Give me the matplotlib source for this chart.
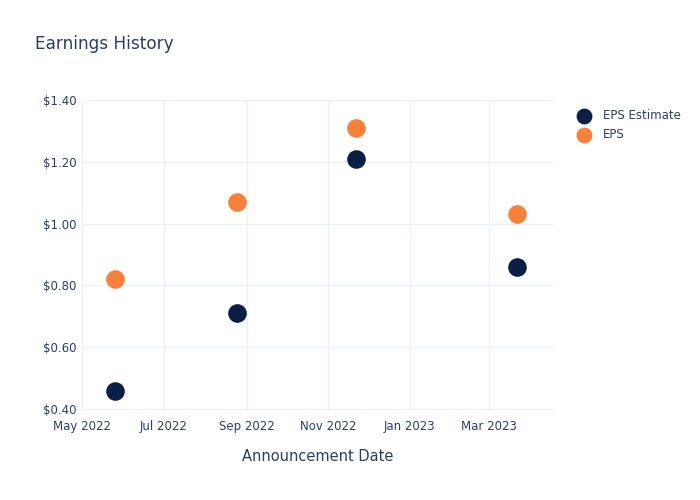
import datetime as dt
import matplotlib
matplotlib.use("Agg")
import matplotlib.pyplot as plt
import matplotlib.dates as mdates
from matplotlib.ticker import FuncFormatter

# data
dates = ["2022-05-26", "2022-08-25", "2022-11-22", "2023-03-22"]
eps_estimate = [0.46, 0.71, 1.21, 0.86]
eps_actual = [0.82, 1.07, 1.31, 1.03]
tick_dates = ["2022-05-01", "2022-07-01", "2022-09-01", "2022-11-01", "2023-01-01", "2023-03-01"]
y_ticks = [0.4, 0.6, 0.8, 1.0, 1.2, 1.4]

text_color = "#2a3f5f"
grid_color = "#ebf0f8"
navy = "#0b1f44"
orange = "#f5813a"

x = [dt.datetime.strptime(d, "%Y-%m-%d") for d in dates]
xt = [dt.datetime.strptime(d, "%Y-%m-%d") for d in tick_dates]

fig = plt.figure(figsize=(7, 5), dpi=100)
ax = fig.add_axes([82 / 700, 90 / 500, 471 / 700, 310 / 500])

ax.scatter(x, eps_estimate, s=180, color=navy, label="EPS Estimate", zorder=3, linewidths=0)
ax.scatter(x, eps_actual, s=180, color=orange, label="EPS", zorder=3, linewidths=0)

ax.set_xlim(dt.datetime(2022, 5, 1), dt.datetime(2023, 4, 18))
ax.set_ylim(0.397, 1.40)
ax.set_xticks(xt)
ax.xaxis.set_major_formatter(mdates.DateFormatter("%b %Y"))
ax.set_yticks(y_ticks)
ax.yaxis.set_major_formatter(FuncFormatter(lambda v, p: "${:.2f}".format(v)))

ax.grid(True, color=grid_color, linewidth=1)
ax.set_axisbelow(True)
for s in ax.spines.values():
    s.set_visible(False)
ax.tick_params(axis="both", length=0, labelsize=8.5, colors=text_color)
ax.tick_params(axis="x", pad=7)
ax.tick_params(axis="y", pad=4)

ax.set_xlabel("Announcement Date", fontsize=10.5, color=text_color, labelpad=12)
fig.text(35 / 700, 1 - 44 / 500, "Earnings History", fontsize=12.2, color=text_color, va="center")

leg = ax.legend(loc="upper left", bbox_to_anchor=(1.03, 0.985), frameon=False,
                fontsize=8.5, labelcolor=text_color, handletextpad=0.6,
                borderaxespad=0, labelspacing=0.45, markerscale=0.85)

fig.savefig("out.png", dpi=100)
